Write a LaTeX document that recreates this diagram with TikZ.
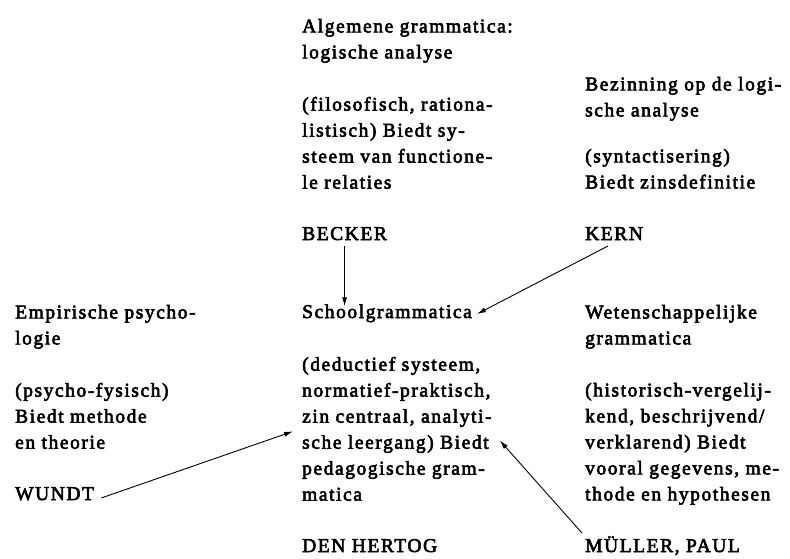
\documentclass[tikz,border=0pt]{standalone}
\usepackage{fontspec}
\setmainfont{Liberation Serif}[LetterSpace=8,FakeBold=3]
\usetikzlibrary{arrows.meta,positioning}
\tikzset{
  txt/.style={anchor=north west, align=left, inner sep=0pt, font=\fontsize{19.5}{26}\selectfont},
  persoon/.style={txt, anchor=base west},
  arr/.style={-{Latex[length=9pt,width=5pt]}, line width=0.9pt, draw=black}
}

\begin{document}
\begin{tikzpicture}[x=1pt,y=-1pt]
        \useasboundingbox (0,0) rectangle (790,558);
        % boven: algemene grammatica
        \node[txt] (algTitle) at (302,18.7) {Algemene grammatica:\\logische analyse};
        \node[txt] (algDesc) at (302,96.7) {(filosofisch, rationa-\\listisch) Biedt sy-\\steem van functione-\\le relaties};
        \node[persoon] (becker) at (302,240) {BECKER};
        % rechtsboven
        \node[txt] (logTitle) at (585,76.7) {Bezinning op de logi-\\sche analyse};
        \node[txt] (logDesc) at (585,148.7) {(syntactisering)\\Biedt zinsdefinitie};
        \node[persoon] (kern) at (585,240) {KERN};
        % midden
        \node[persoon] (schoolTitle) at (302,318) {Schoolgrammatica};
        \node[txt] (schoolDesc) at (302,356.7) {(deductief systeem,\\normatief-praktisch,\\zin centraal, analyti-\\sche leergang) Biedt\\pedagogische gram-\\matica};
        \node[persoon] (hertog) at (302,552) {DEN HERTOG};
        % links
        \node[txt] (psyTitle) at (15,304.7) {Empirische psycho-\\logie};
        \node[txt] (psyDesc) at (15,382.7) {(psycho-fysisch)\\Biedt methode\\en theorie};
        \node[persoon] (wundt) at (15,500) {WUNDT};
        % rechts
        \node[txt] (wetTitle) at (585,304.7) {Wetenschappelijke\\grammatica};
        \node[txt] (wetDesc) at (585,382.7) {(historisch-vergelij-\\kend, beschrijvend/\\verklarend) Biedt\\vooral gegevens, me-\\thode en hypothesen};
        \node[persoon] (muller) at (585,552) {MÜLLER, PAUL};
        % pijlen
        \draw[arr] ([yshift=-6pt]becker.base) -- ([yshift=-2pt]becker.base |- schoolTitle.north);
        \draw[arr] ([xshift=23pt,yshift=-6pt]kern.base west) -- ([xshift=5pt,yshift=4pt]schoolTitle.base east);
        \draw[arr] ([xshift=7pt,yshift=2pt]wundt.base east) -- ([xshift=-9pt,yshift=-2.5pt]schoolDesc.west);
        \draw[arr] ([xshift=-3pt,yshift=19pt]muller.base west) -- ([xshift=8pt,yshift=-11.6pt]schoolDesc.east);
\end{tikzpicture}
\end{document}
